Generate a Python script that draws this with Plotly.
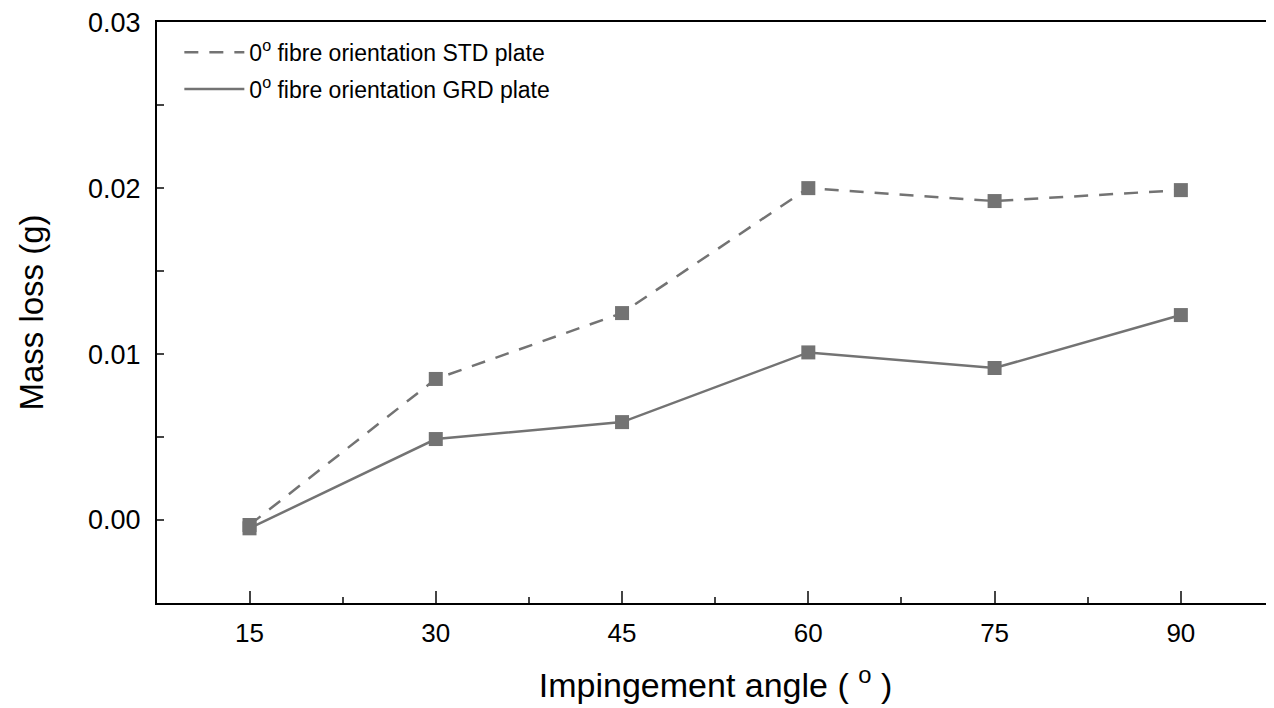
import plotly.graph_objects as go

angles = [15, 30, 45, 60, 75, 90]
std_plate = [-0.0003, 0.0085, 0.01247, 0.0200, 0.01922, 0.01988]
grd_plate = [-0.0005, 0.00488, 0.0059, 0.0101, 0.00916, 0.01235]
names = ["0<sup>o</sup> fibre orientation STD plate", "0<sup>o</sup> fibre orientation GRD plate"]
x_ticks = [15, 30, 45, 60, 75, 90]
y_ticks = [0.00, 0.01, 0.02, 0.03]
y_ticklabels = ["0.00", "0.01", "0.02", "0.03"]

gray = "#737373"
fig = go.Figure()
fig.add_trace(go.Scatter(x=angles, y=std_plate, mode="lines", name=names[0], legendgroup="a",
                         line=dict(color=gray, width=2.5, dash="14px,11px")))
fig.add_trace(go.Scatter(x=angles, y=grd_plate, mode="lines", name=names[1], legendgroup="b",
                         line=dict(color=gray, width=2.5)))
fig.add_trace(go.Scatter(x=angles, y=std_plate, mode="markers", showlegend=False,
                         marker=dict(symbol="square", size=14, color=gray)))
fig.add_trace(go.Scatter(x=angles, y=grd_plate, mode="markers", showlegend=False,
                         marker=dict(symbol="square", size=14, color=gray)))

fig.update_layout(
    width=1266, height=700,
    margin=dict(l=149, r=0, t=14, b=105),
    plot_bgcolor="white", paper_bgcolor="white",
    font=dict(family="Liberation Sans, Arial, sans-serif", color="black"),
    legend=dict(x=0.020, y=0.985, xanchor="left", yanchor="top", itemwidth=60,
                traceorder="grouped", tracegroupgap=4,
                font=dict(size=23), bgcolor="rgba(0,0,0,0)"),
)
fig.update_xaxes(
    range=[7.55, 97.5], tickvals=x_ticks, ticks="inside", ticklen=12, tickwidth=2,
    minor=dict(dtick=7.5, tick0=7.5, ticks="inside", ticklen=6, tickwidth=2),
    showline=True, linewidth=2, linecolor="black", mirror=True, showgrid=False,
    zeroline=False, tickfont=dict(size=26), ticklabelstandoff=6,
    title=dict(text="Impingement angle ( <sup>o</sup> )", font=dict(size=34), standoff=26),
)
fig.update_yaxes(
    range=[-0.005, 0.03001], tickvals=y_ticks, ticktext=y_ticklabels,
    ticks="inside", ticklen=7, tickwidth=2,
    minor=dict(dtick=0.005, tick0=0, ticks="inside", ticklen=7, tickwidth=2),
    showline=True, linewidth=2, linecolor="black", showgrid=False, zeroline=False,
    tickfont=dict(size=27), ticklabelstandoff=9, ticklabeloverflow="allow",
    title=dict(text="Mass loss (g)", font=dict(size=33), standoff=34),
)
fig.write_html("out.html")
